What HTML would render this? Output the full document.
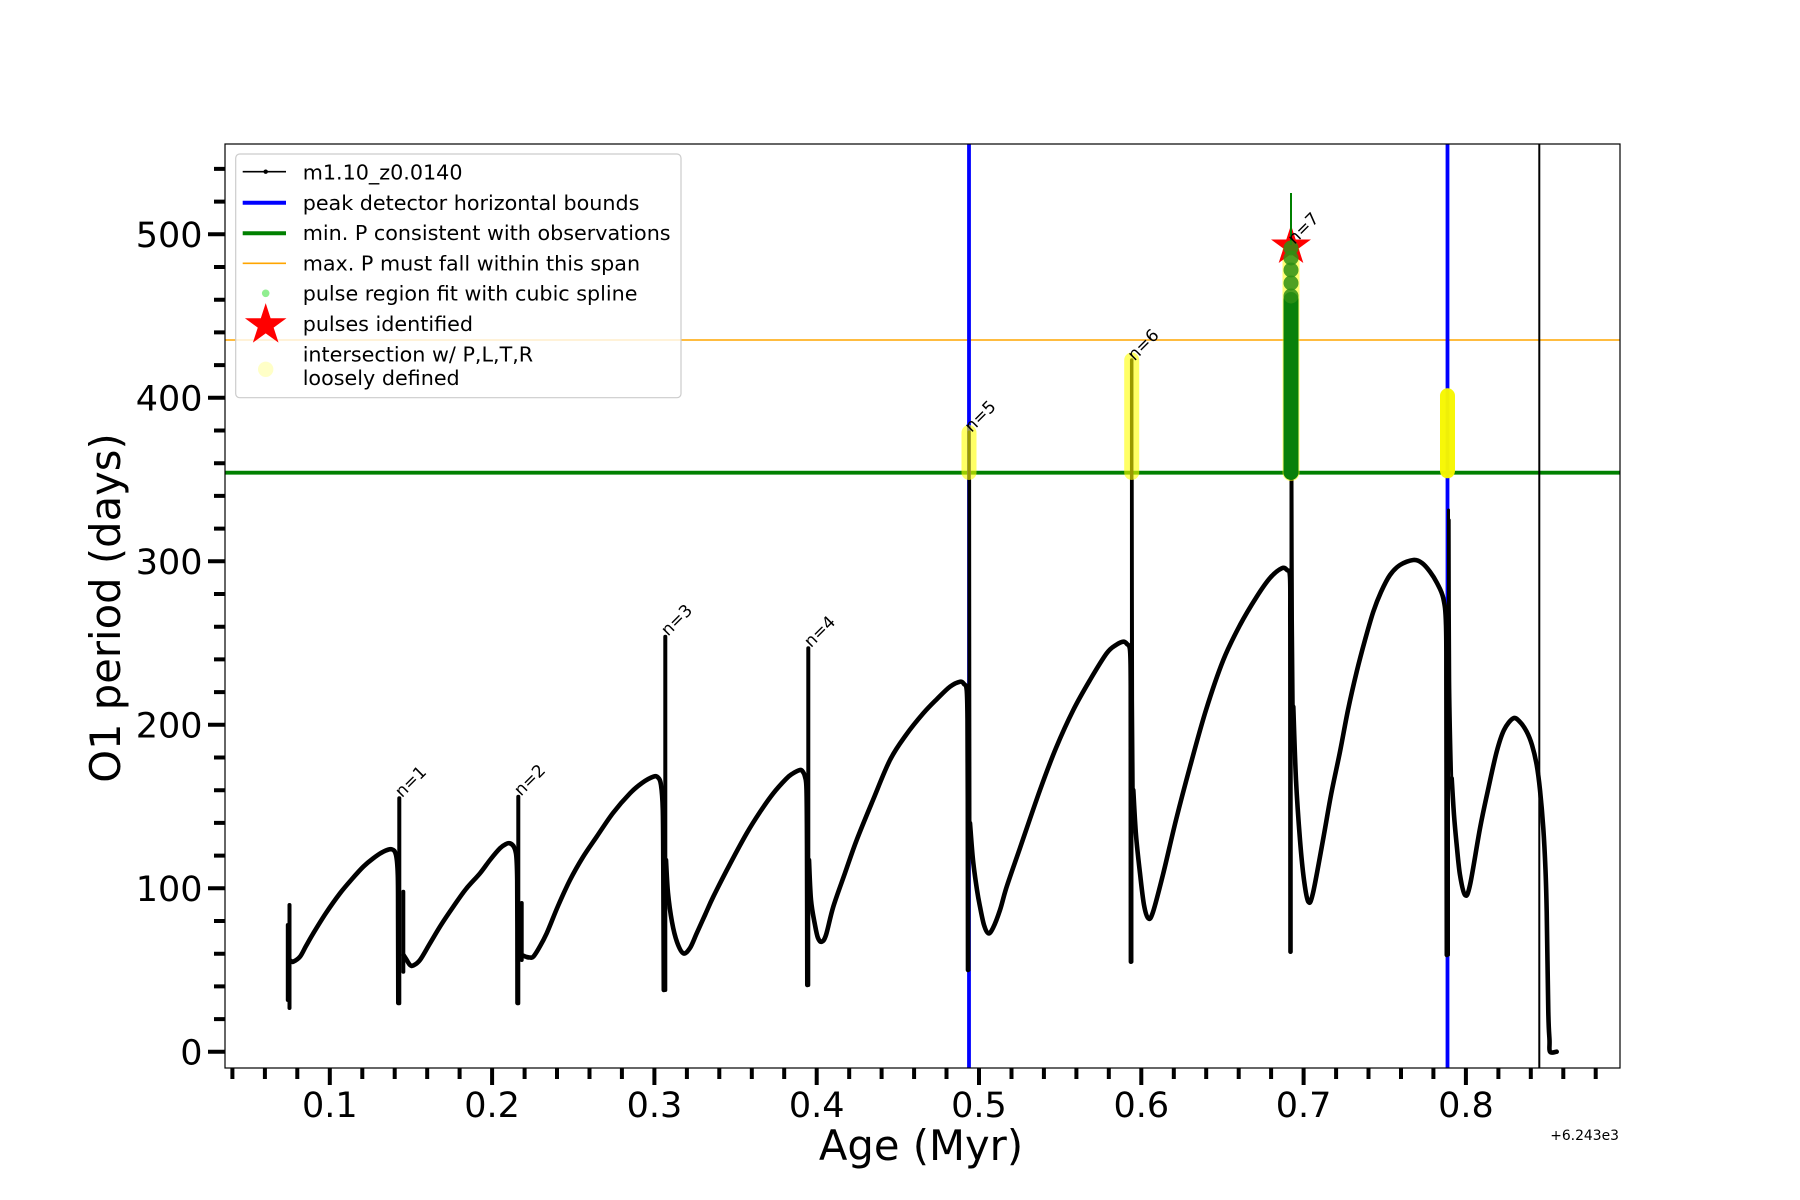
<!DOCTYPE html>
<html>
<head>
<meta charset="utf-8">
<style>
  html, body { margin: 0; padding: 0; background: #ffffff; }
  svg { display: block; }
  text { font-family: "DejaVu Sans", "Liberation Sans", sans-serif; fill: #000; }
</style>
</head>
<body>
<svg width="1800" height="1200" viewBox="0 0 1800 1200" xmlns="http://www.w3.org/2000/svg">
  <rect x="0" y="0" width="1800" height="1200" fill="#ffffff"/>

  <!-- reference lines -->
  <line x1="225" y1="340" x2="1620" y2="340" stroke="#ffa500" stroke-width="1.6"/>
  <line x1="225" y1="472.7" x2="1620" y2="472.7" stroke="#008000" stroke-width="3.8"/>
  <line x1="969" y1="144" x2="969" y2="1068" stroke="#0000ff" stroke-width="3.8"/>
  <line x1="1447.5" y1="144" x2="1447.5" y2="1068" stroke="#0000ff" stroke-width="3.8"/>
  <line x1="1539.3" y1="144" x2="1539.3" y2="1068" stroke="#000000" stroke-width="2"/>

  <!-- main black curve -->
  <g fill="none" stroke="#000" stroke-linejoin="round" stroke-linecap="round">
    <g stroke-width="4">
      <path d="M289.5,905 V1008 M287.8,925 V1000"/>
      <path d="M399.3,798.3 V1003.3"/>
      <path d="M403.3,891.7 V971.7"/>
      <path d="M518.3,796.7 V1003.3"/>
      <path d="M521.7,903 V960"/>
      <path d="M665.3,636.7 V990"/>
      <path d="M808.3,648.3 V985"/>
      <path d="M969,432 V970" stroke-width="3"/>
      <path d="M1131.7,360 V961.7" stroke-width="3.5"/>
      <path d="M1291,473 V951.7" stroke-width="3"/>
      <path d="M1448.5,510 V955" stroke-width="3"/>
    </g>
    <!-- thin steep descents after pulses -->
    <g stroke-width="3">
      <path class="s" d="M969.6,480 L969.8,700 L970,823"/>
      <path class="s" d="M1132.2,480 L1132.6,700 L1133.3,790"/>
      <path class="s" d="M1292,480 L1292.5,620 L1293.3,706.7"/>
      <path class="s" d="M1449.2,520 L1449.8,680 L1451.7,778.3"/>
    </g>
    <g stroke-width="4.6">
      <path class="s" d="M291,961 L293.3,961.7 L300,956.7 L306,946 L313.3,933.3 L326,913 L340,893.3 L352,879 L363.3,866.7 L373,858.5 L383.3,851.7 L391.7,849.3 L396,855 L397.8,875 L398.1,920 L398.3,1003"/>
      <path class="s" d="M403.5,955 L406.7,960 L410,965 L413.3,965.5 L420,960 L430,943.3 L441,925 L453.3,906.7 L466,889 L480,873.3 L490,860 L500,848.3 L506,844 L510,843.3 L514,847 L516.3,856 L517.2,880 L517.4,930 L517.5,1003"/>
      <path class="s" d="M521.7,955 L526.7,957 L530,957.5 L533.3,956.7 L539,948 L546.7,933.3 L558,906 L570,880 L583,857 L596.7,836.7 L613,813 L630,793.3 L642,783 L653.3,776.7 L658,777.5 L661,785 L662.8,810 L663.3,870 L663.8,990"/>
      <path class="s" d="M666,860 L668,893 L672,922 L677,942 L683.3,953.3 L690,948 L696.7,933.3 L705,915 L713.3,896.7 L730,864 L746.7,833.3 L760,812 L773.3,793.3 L786,779 L792,774 L800,770 L803,772 L805,776.7 L806.5,790 L807,850 L807.3,985"/>
      <path class="s" d="M809,860 L811,900 L815,925 L818,938 L821.7,941.7 L826,935 L833.3,906.7 L845,873 L856.7,840 L873,800 L890,760 L906,735 L923.3,713.3 L937,699 L950,686.7 L960,681.7 L964,684 L966.7,690 L967.5,720 L967.8,800 L968,970"/>
      <path class="s" d="M970,823 L973,860 L977,890 L980,906.7 L984,925 L988.3,933.3 L993,928 L1000,910 L1006.7,886.7 L1020,848 L1040,790 L1056,748 L1073.3,710 L1090,680 L1106.7,653.3 L1116,645 L1123.3,641.7 L1127,644 L1130,650 L1130.7,680 L1130.8,760 L1130.9,961.7"/>
      <path class="s" d="M1133.3,790 L1136,835 L1140,873.3 L1144,905 L1148.3,918.3 L1153,912 L1163.3,873.3 L1176,820 L1190,766.7 L1206,710 L1223.3,660 L1240,625 L1256.7,596.7 L1270,578 L1281.7,568.3 L1287,570 L1290,576.7 L1290.3,620 L1290.4,700 L1290.5,951.7"/>
      <path class="s" d="M1293.3,706.7 L1296,780 L1300,840 L1304,880 L1308.3,901.7 L1313,893 L1323.3,838.3 L1331,795 L1340,751.7 L1348,710 L1356.7,671.7 L1365,640 L1373.3,611.7 L1381,592 L1390,575 L1400,565 L1413.3,560 L1422,563 L1430,571.7 L1437,583 L1443.3,598.3 L1446,625 L1446.4,700 L1446.8,955"/>
      <path class="s" d="M1451.7,778.3 L1454,815 L1456.7,845 L1460,875 L1465,895 L1470,885 L1480,828.3 L1488,790 L1496.7,751.7 L1504,730 L1513.3,718.3 L1520,722 L1526.7,731.7 L1532,745 L1536.7,765 L1540,790 L1543.3,828.3 L1545.5,870 L1546.7,911.7 L1548.3,1011.7 L1549.5,1040 L1550,1051.7 L1556.7,1051.7"/>
    </g>
  </g>

  <!-- yellow "loosely defined" scatter columns -->
  <rect x="961.5" y="425" width="15" height="55" rx="7.5" fill="#ffff00" fill-opacity="0.6"/>
  <rect x="1124.2" y="352.5" width="15" height="127.5" rx="7.5" fill="#ffff00" fill-opacity="0.6"/>
  <rect x="1282.5" y="242" width="17" height="239" rx="8.5" fill="#ffff00" fill-opacity="0.55"/>
  <rect x="1440" y="388.3" width="15" height="90" rx="7.5" fill="#f7f700" fill-opacity="0.97"/>

  <!-- red star (pulse identified) -->
  <polygon transform="translate(1291,246)" fill="#ff0000"
    points="0,-21 4.71,-6.49 19.97,-6.49 7.63,2.48 12.34,16.99 0,8.02 -12.34,16.99 -7.63,2.48 -19.97,-6.49 -4.71,-6.49"/>

  <!-- green spline fit scatter -->
  <line x1="1291" y1="193" x2="1291" y2="245" stroke="#008000" stroke-width="2"/>
  <rect x="1283.5" y="292" width="15" height="188" rx="7.5" fill="#0a800a"/>
  <g fill="#2f8f14" fill-opacity="0.85">
    <circle cx="1291" cy="248" r="7.5"/>
    <circle cx="1291" cy="258" r="7.5"/>
    <circle cx="1291" cy="270" r="7.5"/>
    <circle cx="1291" cy="283" r="7.5"/>
    <circle cx="1291" cy="296" r="7.5"/>
  </g>

  <!-- n labels -->
  <g font-size="17">
    <text transform="translate(402,798.3) rotate(-45)">n=1</text>
    <text transform="translate(521,796.7) rotate(-45)">n=2</text>
    <text transform="translate(668,636.7) rotate(-45)">n=3</text>
    <text transform="translate(811,648.3) rotate(-45)">n=4</text>
    <text transform="translate(971.5,433) rotate(-45)">n=5</text>
    <text transform="translate(1134.5,361.5) rotate(-45)">n=6</text>
    <text transform="translate(1294.5,245) rotate(-45)">n=7</text>
  </g>

  <!-- axes frame -->
  <rect x="225" y="144" width="1395" height="924" fill="none" stroke="#000" stroke-width="1.2"/>

  <!-- x ticks -->
  <g stroke="#000" stroke-width="4">
    <path d="M232.4,1068V1079 M264.9,1068V1079 M297.3,1068V1079 M362.3,1068V1079 M394.7,1068V1079 M427.2,1068V1079 M459.6,1068V1079
             M524.6,1068V1079 M557.0,1068V1079 M589.5,1068V1079 M621.9,1068V1079 M686.9,1068V1079 M719.3,1068V1079 M751.8,1068V1079 M784.2,1068V1079
             M849.2,1068V1079 M881.6,1068V1079 M914.1,1068V1079 M946.5,1068V1079 M1011.5,1068V1079 M1043.9,1068V1079 M1076.4,1068V1079 M1108.8,1068V1079
             M1173.8,1068V1079 M1206.2,1068V1079 M1238.7,1068V1079 M1271.1,1068V1079 M1336.1,1068V1079 M1368.5,1068V1079 M1401.0,1068V1079 M1433.4,1068V1079
             M1498.4,1068V1079 M1530.8,1068V1079 M1563.3,1068V1079 M1595.7,1068V1079"/>
    <path d="M329.8,1068V1085 M492.1,1068V1085 M654.4,1068V1085 M816.7,1068V1085 M979,1068V1085 M1141.3,1068V1085 M1303.6,1068V1085 M1465.9,1068V1085"/>
  </g>
  <!-- y ticks -->
  <g stroke="#000" stroke-width="4">
    <path d="M214,1019.1H225 M214,986.4H225 M214,953.7H225 M214,921.0H225
             M214,855.6H225 M214,822.9H225 M214,790.2H225 M214,757.5H225
             M214,692.1H225 M214,659.4H225 M214,626.7H225 M214,594.0H225
             M214,528.6H225 M214,495.9H225 M214,463.2H225 M214,430.5H225
             M214,365.1H225 M214,332.4H225 M214,299.7H225 M214,267.0H225
             M214,201.6H225 M214,168.9H225"/>
    <path d="M208,1051.8H225 M208,888.3H225 M208,724.8H225 M208,561.3H225 M208,397.8H225 M208,234.3H225"/>
  </g>

  <!-- tick labels -->
  <g font-size="35" text-anchor="middle">
    <text x="329.8" y="1117">0.1</text>
    <text x="492.1" y="1117">0.2</text>
    <text x="654.4" y="1117">0.3</text>
    <text x="816.7" y="1117">0.4</text>
    <text x="979" y="1117">0.5</text>
    <text x="1141.3" y="1117">0.6</text>
    <text x="1303.6" y="1117">0.7</text>
    <text x="1465.9" y="1117">0.8</text>
  </g>
  <g font-size="35" text-anchor="end">
    <text x="202.5" y="1064.6">0</text>
    <text x="202.5" y="901.1">100</text>
    <text x="202.5" y="737.6">200</text>
    <text x="202.5" y="574.1">300</text>
    <text x="202.5" y="410.6">400</text>
    <text x="202.5" y="247.1">500</text>
  </g>
  <text x="1619" y="1140" font-size="13.9" text-anchor="end">+6.243e3</text>

  <!-- axis labels -->
  <text x="921" y="1160" font-size="41.7" text-anchor="middle">Age (Myr)</text>
  <text transform="translate(120,608) rotate(-90)" font-size="41.7" text-anchor="middle">O1 period (days)</text>

  <!-- legend -->
  <rect x="235.7" y="154" width="445.3" height="243.7" rx="4" fill="#ffffff" fill-opacity="0.8" stroke="#cccccc" stroke-width="1.2"/>
  <line x1="242.7" y1="171.7" x2="286" y2="171.7" stroke="#000" stroke-width="1.6"/>
  <circle cx="265.7" cy="171.7" r="2.2" fill="#000"/>
  <line x1="242.7" y1="202.7" x2="286" y2="202.7" stroke="#0000ff" stroke-width="4"/>
  <line x1="242.7" y1="233.3" x2="286" y2="233.3" stroke="#008000" stroke-width="4"/>
  <line x1="242.7" y1="263.3" x2="286" y2="263.3" stroke="#ffa500" stroke-width="1.6"/>
  <circle cx="265.7" cy="293.3" r="3.8" fill="#90ee90"/>
  <polygon transform="translate(265.7,325) scale(1.04)" fill="#ff0000"
    points="0,-21 4.71,-6.49 19.97,-6.49 7.63,2.48 12.34,16.99 0,8.02 -12.34,16.99 -7.63,2.48 -19.97,-6.49 -4.71,-6.49"/>
  <circle cx="265.7" cy="369.3" r="7.7" fill="#ffff00" fill-opacity="0.22"/>
  <g font-size="20.7">
    <text x="302.7" y="179.3">m1.10_z0.0140</text>
    <text x="302.7" y="209.8">peak detector horizontal bounds</text>
    <text x="302.7" y="240.1">min. P consistent with observations</text>
    <text x="302.7" y="270.4">max. P must fall within this span</text>
    <text x="302.7" y="300.7">pulse region fit with cubic spline</text>
    <text x="302.7" y="331">pulses identified</text>
    <text x="302.7" y="361.5">intersection w/ P,L,T,R</text>
    <text x="302.7" y="384.8">loosely defined</text>
  </g>
</svg>
<script>
(function(){
  var paths = document.querySelectorAll('path.s');
  for (var k = 0; k < paths.length; k++) {
    var p = paths[k];
    var n = p.getAttribute('d').match(/-?\d+(\.\d+)?/g).map(Number);
    var pts = [];
    for (var i = 0; i + 1 < n.length; i += 2) pts.push([n[i], n[i+1]]);
    if (pts.length < 3) continue;
    var d = 'M' + pts[0][0] + ',' + pts[0][1];
    for (var j = 0; j < pts.length - 1; j++) {
      var p0 = pts[j-1] || pts[j], p1 = pts[j], p2 = pts[j+1], p3 = pts[j+2] || p2;
      var c1x = p1[0] + (p2[0]-p0[0])/6, c1y = p1[1] + (p2[1]-p0[1])/6;
      var c2x = p2[0] - (p3[0]-p1[0])/6, c2y = p2[1] - (p3[1]-p1[1])/6;
      d += ' C' + c1x.toFixed(2) + ',' + c1y.toFixed(2) + ' ' + c2x.toFixed(2) + ',' + c2y.toFixed(2) + ' ' + p2[0] + ',' + p2[1];
    }
    p.setAttribute('d', d);
  }
})();
</script>
</body>
</html>
